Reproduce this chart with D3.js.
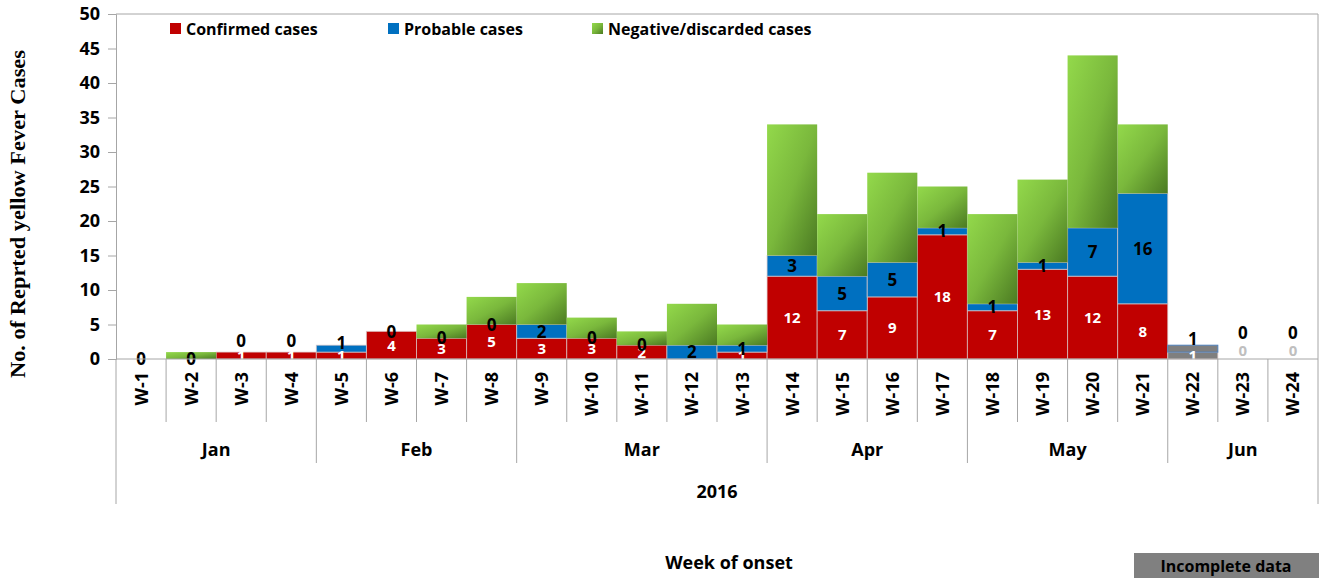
<!DOCTYPE html>
<html>
<head>
<meta charset="utf-8">
<script src="https://cdn.jsdelivr.net/npm/d3@7"></script>
<style>
body { margin: 0; background: #fff; }
svg { display: block; font-family: "Open Sans", sans-serif; font-weight: bold; }
</style>
</head>
<body>
<svg id="chart" width="1319" height="578"></svg>
<script>
// weekly counts
const weeks = ["W-1","W-2","W-3","W-4","W-5","W-6","W-7","W-8","W-9","W-10","W-11","W-12",
               "W-13","W-14","W-15","W-16","W-17","W-18","W-19","W-20","W-21","W-22","W-23","W-24"];
const confirmed = [0,0,1,1,1,4,3,5,3,3,2,0,1,12,7,9,18,7,13,12,8,1,0,0];
const probable  = [0,0,0,0,1,0,0,0,2,0,0,2,1,3,5,5,1,1,1,7,16,1,0,0];
const negative  = [0,1,0,0,0,0,2,4,6,3,2,6,3,19,9,13,6,13,12,25,10,0,0,0];
const incomplete = ["W-22","W-23","W-24"];
const months = ["Jan","Feb","Mar","Apr","May","Jun"];
const monthWeeks = [4,4,5,4,4,3];
const year = "2016";
const yTicks = [0,5,10,15,20,25,30,35,40,45,50];
const seriesNames = ["Confirmed cases","Probable cases","Negative/discarded cases"];

const svg = d3.select("#chart");
const plotLeft = 116, plotRight = 1318, plotTop = 14, base = 359;

const x = d3.scaleBand().domain(weeks).range([plotLeft, plotRight]).padding(0);
const y = d3.scaleLinear().domain([0, 50]).range([base, plotTop]);

// green gradient for negative bars
const grad = svg.append("defs").append("linearGradient")
    .attr("id", "negGrad")
    .attr("x1", 0).attr("y1", 0).attr("x2", 1).attr("y2", 1);
grad.append("stop").attr("offset", "0%").attr("stop-color", "#93d94b");
grad.append("stop").attr("offset", "50%").attr("stop-color", "#7ab83c");
grad.append("stop").attr("offset", "100%").attr("stop-color", "#4b7a22");

const rows = weeks.map((w, i) => ({week: w, confirmed: confirmed[i], probable: probable[i], negative: negative[i]}));
const keys = ["confirmed", "probable", "negative"];
const stacked = d3.stack().keys(keys)(rows);
const fills = {confirmed: "#c00000", probable: "#0070c0", negative: "url(#negGrad)"};

// frame lines
const grey = "#a6a6a6";
svg.append("line").attr("x1", plotLeft).attr("x2", plotRight).attr("y1", plotTop).attr("y2", plotTop).attr("stroke", grey);
svg.append("line").attr("x1", plotRight).attr("x2", plotRight).attr("y1", plotTop).attr("y2", 504).attr("stroke", grey);

// bars
stacked.forEach(layer => {
  svg.append("g").selectAll("rect")
    .data(layer)
    .join("rect")
    .attr("x", d => x(d.data.week))
    .attr("y", d => y(d[1]))
    .attr("width", x.bandwidth())
    .attr("height", d => y(d[0]) - y(d[1]))
    .attr("fill", d => incomplete.includes(d.data.week) ? "#7f7f7f" : fills[layer.key])
    .attr("stroke", d => {
      if (d[1] === d[0]) return "none";
      if (incomplete.includes(d.data.week) && layer.key === "probable") return "#4f81bd";
      return layer.key === "negative" ? "none" : "rgba(220,200,200,0.7)";
    })
    .attr("stroke-width", 1);
});

// value labels
const conf = stacked[0], prob = stacked[1];
svg.append("g").selectAll("text")
  .data(conf.filter(d => d.data.confirmed > 0 || incomplete.includes(d.data.week)))
  .join("text")
  .attr("x", d => x(d.data.week) + x.bandwidth() / 2)
  .attr("y", d => d.data.confirmed > 0 ? (y(d[0]) + y(d[1])) / 2 : base - 8)
  .attr("dy", "0.36em")
  .attr("text-anchor", "middle")
  .attr("font-size", 15)
  .attr("fill", d => d.data.confirmed > 0 ? "#fff" : "#bfbfbf")
  .text(d => d.data.confirmed);

svg.append("g").selectAll("text")
  .data(prob)
  .join("text")
  .attr("x", d => x(d.data.week) + x.bandwidth() / 2)
  .attr("y", d => {
    let cy = (y(d[0]) + y(d[1])) / 2;
    if (incomplete.includes(d.data.week)) return d.data.probable > 0 ? cy - 10 : cy - 26;
    if (d.data.probable === 0 && d.data.confirmed === 1) return cy - 11;
    if (d.data.week === "W-5") return cy - 6;
    return cy;
  })
  .attr("dy", "0.36em")
  .attr("text-anchor", "middle")
  .attr("font-size", 17)
  .attr("fill", "#000")
  .text(d => d.data.probable);

// y axis
const yAxis = svg.append("g")
  .attr("transform", `translate(${plotLeft},0)`)
  .call(d3.axisLeft(y).tickValues(yTicks).tickSize(8).tickPadding(8));
yAxis.select(".domain").attr("stroke", grey);
yAxis.selectAll(".tick line").attr("stroke", grey);
yAxis.selectAll(".tick text")
  .attr("font-family", "Open Sans")
  .attr("font-weight", "bold")
  .attr("font-size", 18)
  .attr("fill", "#000");

svg.append("text")
  .attr("transform", "translate(25,214) rotate(-90)")
  .attr("text-anchor", "middle")
  .attr("font-family", "Liberation Serif")
  .attr("font-size", 20)
  .attr("textLength", 328)
  .attr("lengthAdjust", "spacingAndGlyphs")
  .text("No. of Reprted yellow Fever Cases");

// category axis (weeks, months, year)
svg.append("line").attr("x1", plotLeft).attr("x2", plotRight).attr("y1", base).attr("y2", base).attr("stroke", grey);

const monthStart = [0];
monthWeeks.forEach((n, i) => monthStart.push(monthStart[i] + n));

weeks.forEach((w, i) => {
  const bx = x(w);
  let bottom = 422;
  if (monthStart.includes(i)) bottom = 463;
  if (i === 0) bottom = 504;
  svg.append("line").attr("x1", bx).attr("x2", bx).attr("y1", base).attr("y2", bottom).attr("stroke", grey);
});

svg.append("g").selectAll("text")
  .data(weeks)
  .join("text")
  .attr("transform", d => `translate(${x(d) + x.bandwidth() / 2 + 6.5},372) rotate(-90)`)
  .attr("text-anchor", "end")
  .attr("font-size", 18)
  .text(d => d);

svg.append("g").selectAll("text")
  .data(months)
  .join("text")
  .attr("x", (d, i) => (x(weeks[monthStart[i]]) + x(weeks[monthStart[i + 1] - 1]) + x.bandwidth()) / 2)
  .attr("y", 450)
  .attr("dy", "0.36em")
  .attr("text-anchor", "middle")
  .attr("font-size", 18)
  .text(d => d);

svg.append("text")
  .attr("x", (plotLeft + plotRight) / 2).attr("y", 492).attr("dy", "0.36em")
  .attr("text-anchor", "middle").attr("font-size", 18)
  .text(year);

svg.append("text")
  .attr("x", 729).attr("y", 563).attr("dy", "0.36em")
  .attr("text-anchor", "middle").attr("font-size", 18)
  .text("Week of onset");

// incomplete data note
svg.append("rect").attr("x", 1134).attr("y", 553).attr("width", 185).attr("height", 25).attr("fill", "#808080");
svg.append("text")
  .attr("x", 1226).attr("y", 566).attr("dy", "0.36em")
  .attr("text-anchor", "middle").attr("font-size", 16)
  .text("Incomplete data");

// legend
const legendX = [170, 388, 592];
const legendFill = ["#c00000", "#0070c0", "url(#negGrad)"];
const legend = svg.append("g").selectAll("g")
  .data(seriesNames)
  .join("g")
  .attr("transform", (d, i) => `translate(${legendX[i]},23)`);
legend.append("rect").attr("width", 11).attr("height", 11).attr("fill", (d, i) => legendFill[i]);
legend.append("text").attr("x", 16).attr("y", 6).attr("dy", "0.36em").attr("font-size", 16).text(d => d);
</script>
</body>
</html>
